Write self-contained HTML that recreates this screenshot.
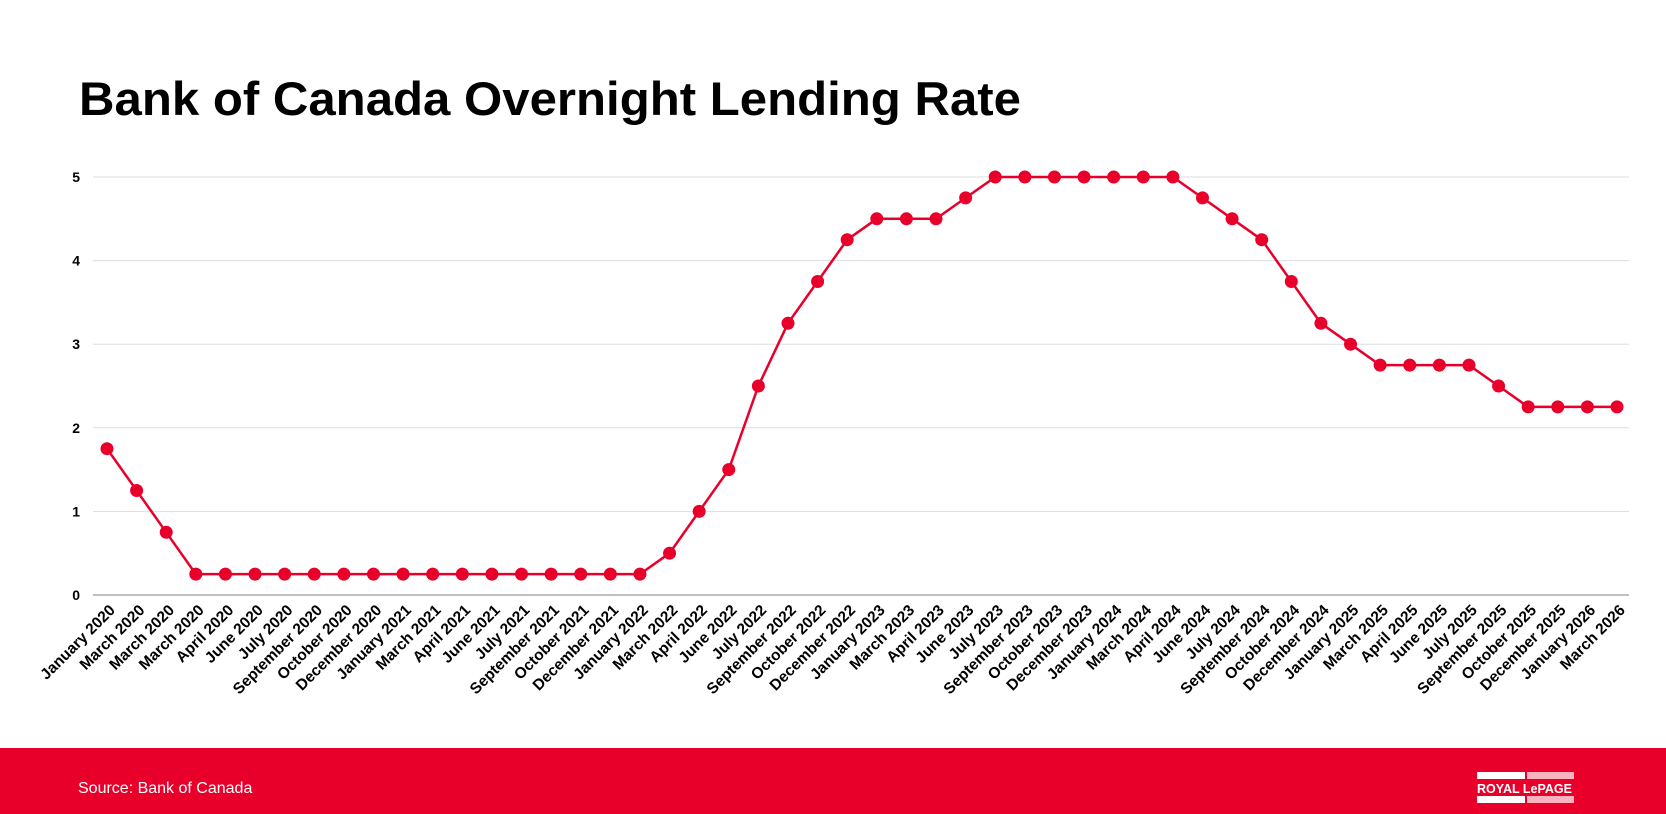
<!DOCTYPE html>
<html><head><meta charset="utf-8"><style>
html,body{margin:0;padding:0;background:#fff}
svg{display:block;font-family:"Liberation Sans",Arial,sans-serif}
</style></head><body>
<svg id="chart" width="1666" height="814" viewBox="0 0 1666 814" xmlns="http://www.w3.org/2000/svg">
<text x="79" y="115" font-size="47" font-weight="bold" fill="#000" textLength="942" lengthAdjust="spacingAndGlyphs">Bank of Canada Overnight Lending Rate</text>
<g id="grid"></g>
<g id="yticks"></g>
<g id="xticks"></g>
<g id="series"></g>
<rect x="0" y="748" width="1666" height="66" fill="#e8002b"/>
<text x="78" y="793" font-size="16" fill="#fff">Source: Bank of Canada</text>
<g>
<rect x="1477" y="772" width="48" height="7" fill="#fff"/>
<rect x="1527" y="772" width="47" height="7" fill="#fff" opacity="0.7"/>
<rect x="1477" y="796" width="48" height="7" fill="#fff"/>
<rect x="1527" y="796" width="47" height="7" fill="#fff" opacity="0.7"/>
<text x="1477" y="793" font-size="13" font-weight="bold" fill="#fff" textLength="95" lengthAdjust="spacingAndGlyphs">ROYAL LePAGE</text>
</g>
</svg>
<script>
const categories = ["January 2020","March 2020","March 2020","March 2020","April 2020","June 2020","July 2020","September 2020","October 2020","December 2020","January 2021","March 2021","April 2021","June 2021","July 2021","September 2021","October 2021","December 2021","January 2022","March 2022","April 2022","June 2022","July 2022","September 2022","October 2022","December 2022","January 2023","March 2023","April 2023","June 2023","July 2023","September 2023","October 2023","December 2023","January 2024","March 2024","April 2024","June 2024","July 2024","September 2024","October 2024","December 2024","January 2025","March 2025","April 2025","June 2025","July 2025","September 2025","October 2025","December 2025","January 2026","March 2026"];
const rates = [1.75,1.25,0.75,0.25,0.25,0.25,0.25,0.25,0.25,0.25,0.25,0.25,0.25,0.25,0.25,0.25,0.25,0.25,0.25,0.5,1.0,1.5,2.5,3.25,3.75,4.25,4.5,4.5,4.5,4.75,5,5,5,5,5,5,5,4.75,4.5,4.25,3.75,3.25,3.0,2.75,2.75,2.75,2.75,2.5,2.25,2.25,2.25,2.25];
const yTicks = [0,1,2,3,4,5];

const NS="http://www.w3.org/2000/svg";
const x0=107, x1=1617, yBase=595, yTop=177, yMax=5;
const xs=i=>x0+(x1-x0)*i/(categories.length-1);
const ys=v=>yBase-(yBase-yTop)*v/yMax;
function mk(t,a){const e=document.createElementNS(NS,t);for(const k in a)e.setAttribute(k,a[k]);return e;}
const grid=document.getElementById('grid'),yt=document.getElementById('yticks'),xt=document.getElementById('xticks'),ser=document.getElementById('series');
yTicks.forEach(v=>{
  const l=mk('line',{x1:93,x2:1629,y1:ys(v),y2:ys(v),stroke:v===0?'#aaa':'#ddd','stroke-width':v===0?1.5:1});
  
  
  grid.appendChild(l);
  const t=mk('text',{x:80,y:ys(v)+5,'text-anchor':'end','font-size':14,'font-weight':'bold',fill:'#000'});
  t.textContent=v;
  
  
  yt.appendChild(t);
});
categories.forEach((c,i)=>{
  const x=xs(i)+9,y=611;
  const t=mk('text',{x:x,y:y,'text-anchor':'end','font-size':15.5,'font-weight':'bold',fill:'#000',transform:`rotate(-45 ${x} ${y})`});
  t.textContent=c;
  
  
  xt.appendChild(t);
});
const path=mk('polyline',{points:rates.map((v,i)=>xs(i)+','+ys(v)).join(' '),fill:'none',stroke:'#e8002b','stroke-width':2.5});


ser.appendChild(path);
rates.forEach((v,i)=>{
  const c=mk('circle',{cx:xs(i),cy:ys(v),r:6.5,fill:'#e8002b'});
  
  
  ser.appendChild(c);
});
</script>
</body></html>
